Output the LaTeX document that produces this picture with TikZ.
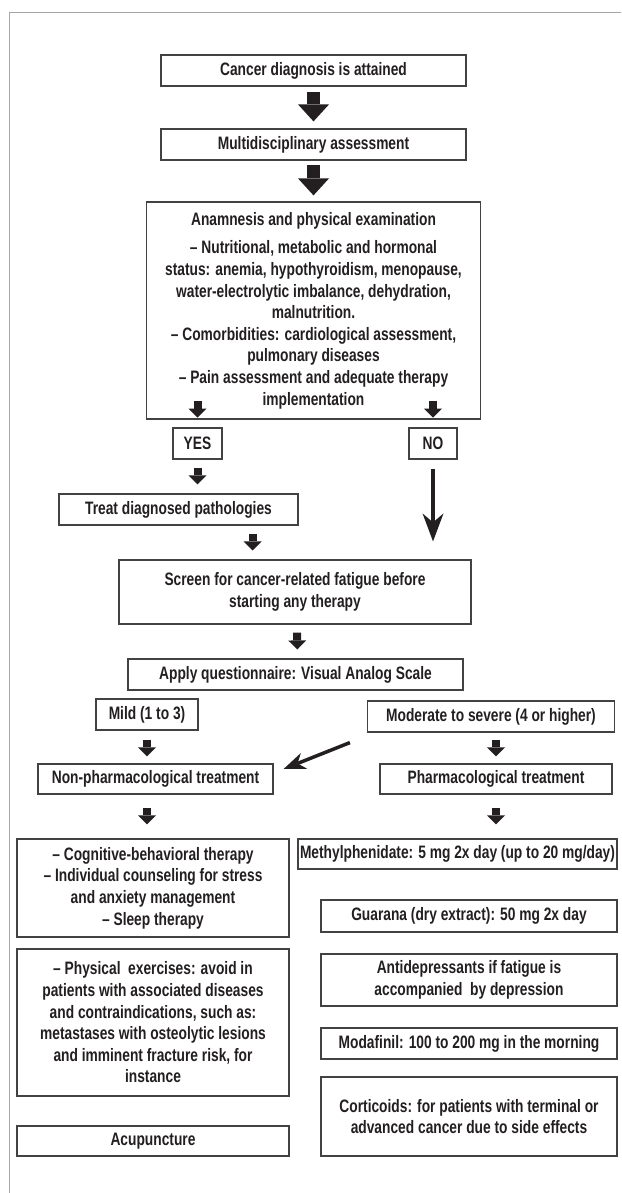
\documentclass[tikz,border=0pt]{standalone}
\usepackage{fontspec}
\newfontfamily\condfont{Liberation Sans}[FakeStretch=0.765]
\usetikzlibrary{arrows.meta,calc}
\definecolor{ink}{HTML}{231F20}
\definecolor{framegray}{HTML}{A6A6A6}

\begin{document}
\begin{tikzpicture}[x=1pt,y=-1pt]
  \tikzstyle{every node}=[font=\condfont\bfseries\fontsize{18}{21.6}\selectfont, text=ink]
  \tikzstyle{box}=[draw=ink!85, line width=1.2pt, align=center, inner sep=0pt]
  \tikzstyle{bigarrow}=[ink, line width=13pt, -{Triangle[width=31pt,length=17pt,line width=0pt]}]
  \tikzstyle{smallarrow}=[ink, line width=8pt, -{Triangle[width=18pt,length=9pt,line width=0pt]}]
  \tikzstyle{thinarrow}=[ink, line width=4.5pt, -{Stealth[width=21pt,length=28pt,inset=9pt,line width=0pt]}]
  \tikzstyle{diagarrow}=[ink, line width=3.5pt, -{Stealth[width=17pt,length=22pt,inset=7pt,line width=0pt]}]
  \useasboundingbox (0,0) rectangle (621,1193);
  % page frame
  \draw[framegray, line width=1pt] (621,12.3) -- (9.5,12.3) -- (9.5,1193);

  % top of the chart
  \node[box, minimum width=305pt, minimum height=31pt] (diag) at (313.5,70.5) {Cancer diagnosis is attained};
  \node[box, minimum width=305pt, minimum height=31pt] (multi) at (313.5,144.5) {Multidisciplinary assessment};
  \node[box, minimum width=334pt, minimum height=217pt] (anam) at (313.5,310.5) {Anamnesis and physical examination\\[7pt]
    – Nutritional, metabolic and hormonal\\ status: anemia, hypothyroidism, menopause,\\
    water-electrolytic imbalance, dehydration,\\ malnutrition.\\
    – Comorbidities: cardiological assessment,\\ pulmonary diseases\\
    – Pain assessment and adequate therapy\\ implementation};
  \node[box, minimum width=49pt, minimum height=31pt] (yes) at (197.5,443.5) {YES};
  \node[box, minimum width=48pt, minimum height=31pt] (no) at (433,443.5) {NO};
  \node[box, minimum width=239pt, minimum height=31pt] (treat) at (178.5,509.5) {Treat diagnosed pathologies};
  \node[box, minimum width=352pt, minimum height=64pt] (screen) at (295,592) {Screen for cancer-related fatigue before\\starting any therapy};
  \node[box, minimum width=335pt, minimum height=31pt] (vas) at (295.5,674.5) {Apply questionnaire: Visual Analog Scale};
  \node[box, minimum width=102pt, minimum height=31pt] (mild) at (147,714.5) {Mild (1 to 3)};
  \node[box, minimum width=247pt, minimum height=31pt] (severe) at (491,716.5) {Moderate to severe (4 or higher)};
  \node[box, minimum width=235pt, minimum height=30pt] (nonpharm) at (155.5,779) {Non-pharmacological treatment};
  \node[box, minimum width=232pt, minimum height=30pt] (pharm) at (496,779) {Pharmacological treatment};

  % left column
  \node[box, minimum width=272pt, minimum height=98pt] (cbt) at (153,888) {– Cognitive-behavioral therapy\\
    – Individual counseling for stress\\ and anxiety management\\ – Sleep therapy};
  \node[box, minimum width=272pt, minimum height=147pt] (exercise) at (153,1022.5) {– Physical\ \ exercises: avoid in\\
    patients with associated diseases\\ and contraindications, such as:\\
    metastases with osteolytic lesions\\ and imminent fracture risk, for\\ instance};
  \node[box, minimum width=272pt, minimum height=30pt] (acu) at (153,1141) {Acupuncture};

  % right column
  \node[box, minimum width=319pt, minimum height=30pt] (methyl) at (457.5,854) {Methylphenidate: 5 mg 2x day (up to 20 mg/day)};
  \node[box, minimum width=296pt, minimum height=32pt] (guarana) at (469,916) {Guarana (dry extract): 50 mg 2x day};
  \node[box, minimum width=296pt, minimum height=52pt] (antidep) at (469,980) {Antidepressants if fatigue is\\ accompanied\ \ by depression};
  \node[box, minimum width=296pt, minimum height=31pt] (modafinil) at (469,1043.5) {Modafinil: 100 to 200 mg in the morning};
  \node[box, minimum width=296pt, minimum height=79pt] (cortic) at (469,1116.5) {Corticoids: for patients with terminal or\\ advanced cancer due to side effects};

  % arrows
  \draw[bigarrow, shorten <=5pt, shorten >=7pt] (diag) -- (multi);
  \draw[bigarrow, shorten <=4pt, shorten >=6pt] (multi) -- (anam);
  \draw[smallarrow] ($(anam.south -| yes)+(0,-19)$) -- ($(anam.south -| yes)+(0,-2)$);
  \draw[smallarrow] ($(anam.south -| no)+(0,-19)$) -- ($(anam.south -| no)+(0,-2)$);
  \draw[smallarrow, shorten <=8pt, shorten >=9pt] (yes) -- (yes |- treat.north);
  \draw[thinarrow, shorten <=9pt, shorten >=18pt] (no) -- (no |- screen.north);
  \coordinate (treatout) at ($(treat.south east)+(-46,0)$);
  \draw[smallarrow, shorten <=8pt, shorten >=9pt] (treatout) -- (treatout |- screen.north);
  \draw[smallarrow, shorten <=8pt, shorten >=9pt] ([xshift=2pt]screen.south) -- ([xshift=2pt]vas.north);
  \draw[smallarrow, shorten <=9pt, shorten >=7pt] (mild) -- (mild |- nonpharm.north);
  \draw[smallarrow, shorten <=7pt, shorten >=7pt] (severe.south -| pharm) -- (pharm);
  \coordinate (diagstart) at ($(severe.south west)+(-17,10)$);
  \draw[diagarrow] (diagstart) -- ($(nonpharm.east)+(10,-10)$);
  \draw[smallarrow, shorten <=13pt, shorten >=14pt] (nonpharm.south -| mild) -- (cbt.north -| mild);
  \draw[smallarrow, shorten <=13pt, shorten >=14pt] (pharm) -- (pharm |- methyl.north);
\end{tikzpicture}
\end{document}
